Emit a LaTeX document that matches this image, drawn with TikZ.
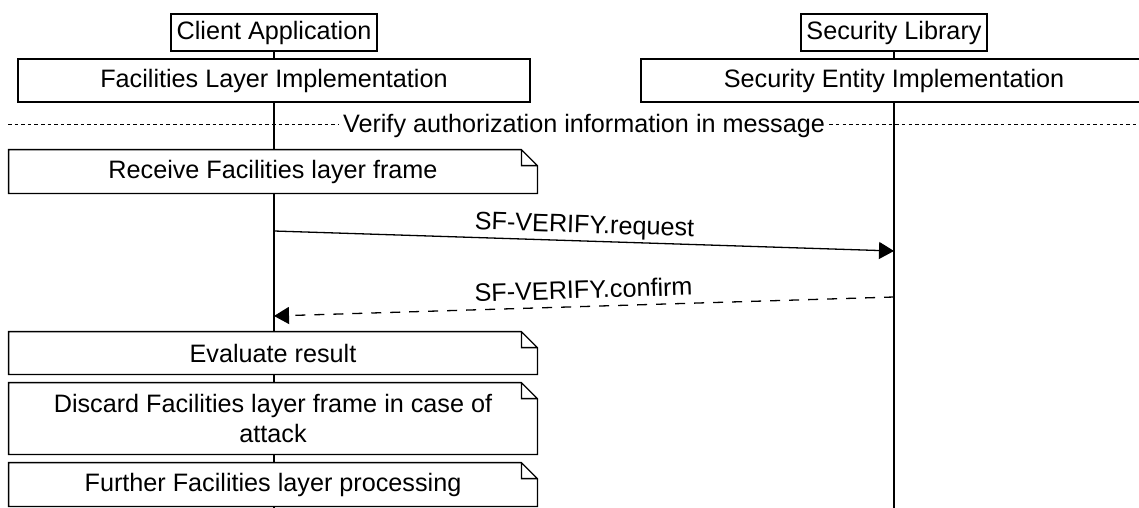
\documentclass[tikz,border=0pt]{standalone}
\usepackage{fontspec}
\setmainfont{Liberation Sans}
\usetikzlibrary{arrows.meta}
\pgfdeclarelayer{background}
\pgfsetlayers{background,main}
\tikzset{
  lbl/.style={font=\fontsize{12.6pt}{15pt}\selectfont},
  actor/.style={draw, fill=white, line width=0.65pt, inner sep=0pt, lbl, minimum height=18.5pt},
  impl/.style={draw, fill=white, line width=0.65pt, inner sep=0pt, lbl, minimum height=21.5pt},
  notebox/.style={fill=white, inner sep=0pt, lbl, align=center, minimum width=264pt},
  noteline/.style={line width=0.65pt, line join=miter},
  lifeline/.style={line width=0.65pt},
  msg/.style={line width=0.65pt, -{Triangle[length=7.5pt,width=8.5pt]}},
  reply/.style={msg, dash pattern=on 5pt off 4.5pt},
  msglabel/.style={lbl, sloped, above, inner sep=1.2pt, text depth=2.5pt},
  divider/.style={line width=0.5pt, dash pattern=on 1.75pt off 1.55pt},
}
% outline of a UML note with a folded top-right corner
\newcommand\drawnote[1]{%
  \draw[noteline] (#1.north west) -- ([xshift=-8pt]#1.north east)
    -- ([yshift=-8pt]#1.north east) -- (#1.south east) -- (#1.south west) -- cycle
    ([xshift=-8pt]#1.north east) |- ([yshift=-8pt]#1.north east);}
\begin{document}
\begin{tikzpicture}[x=0.5pt, y=-0.5pt]
\useasboundingbox (0,0) rectangle (1139,508);

% participants
\node[actor, minimum width=103pt] (ca) at (274,32.5) {Client Application};
\node[impl, minimum width=256pt] (fl) at (274,80.5) {Facilities Layer Implementation};
\node[actor, minimum width=93pt] (sl) at (894,32.5) {Security Library};
\node[impl, minimum width=253pt] (se) at (894,80.5) {Security Entity Implementation};

\coordinate (endL) at (274,508);
\coordinate (endR) at (894,508);
\begin{pgfonlayer}{background}
  \draw[lifeline] (ca.south) -- (endL);
  \draw[lifeline] (sl.south) -- (endR);
\end{pgfonlayer}

% section divider
\coordinate (dl) at (8,124);
\coordinate (dr) at (1139,124);
\node[lbl, anchor=base, inner xsep=2pt, inner ysep=0pt] (vlabel) at (584,133)
  {Verify authorization information in message};
\draw[divider] (dl) -- (dl -| vlabel.west);
\draw[divider] (dr -| vlabel.east) -- (dr);

% notes on the client lifeline
\node[notebox, minimum height=21.5pt] (n1) at (273,171.5) {Receive Facilities layer frame};
\drawnote{n1}
\node[notebox, minimum height=21pt] (n2) at (273,353) {Evaluate result};
\drawnote{n2}
\node[notebox, minimum height=35.5pt] (n3) at (273,418.5)
  {Discard Facilities layer frame in case of\\attack};
\drawnote{n3}
\node[notebox, minimum height=21.5pt] (n4) at (273,484.5) {Further Facilities layer processing};
\drawnote{n4}

% messages
\coordinate (reqS) at (274,231);
\coordinate (reqE) at (894,251);
\draw[msg] (reqS) -- node[msglabel] (reqlabel) {SF-VERIFY.request} (reqE);
\coordinate (cnfS) at (894,297);
\coordinate (cnfE) at (274,316);
\draw[reply] (cnfS) -- node[msglabel] (cnflabel) {SF-VERIFY.confirm} (cnfE);
\end{tikzpicture}
\end{document}
